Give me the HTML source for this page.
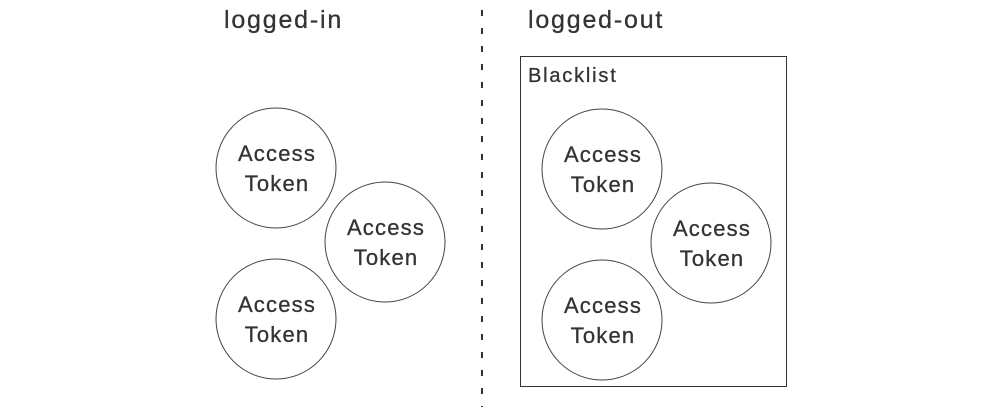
<!DOCTYPE html>
<html><head><style>
html,body{margin:0;padding:0;background:#fff;}
svg{display:block;}
text{font-family:"Liberation Sans",sans-serif;fill:#333;stroke:#333;stroke-width:0.3;}
</style></head><body>
<svg width="1000" height="407" viewBox="0 0 1000 407">
<text x="224" y="28" font-size="25" letter-spacing="1.8">logged-in</text>
<text x="528" y="28" font-size="25" letter-spacing="1.8">logged-out</text>
<line x1="482" y1="10" x2="482" y2="407" stroke="#333" stroke-width="2" stroke-dasharray="6,12"/>
<rect x="520.5" y="56.5" width="266" height="330" fill="none" stroke="#333" stroke-width="1"/>
<text x="528" y="82" font-size="20" letter-spacing="1.8">Blacklist</text>
<g fill="none" stroke="#444" stroke-width="1">
<circle cx="276" cy="168" r="60"/>
<circle cx="385" cy="242" r="60"/>
<circle cx="276" cy="319" r="60"/>
<circle cx="602" cy="169" r="60"/>
<circle cx="711" cy="243" r="60"/>
<circle cx="602" cy="320" r="60"/>
</g>
<g font-size="22" text-anchor="middle" letter-spacing="1.2">
<text x="277" y="161">Access</text><text x="277" y="191">Token</text>
<text x="386" y="235">Access</text><text x="386" y="265">Token</text>
<text x="277" y="312">Access</text><text x="277" y="342">Token</text>
<text x="603" y="162">Access</text><text x="603" y="192">Token</text>
<text x="712" y="236">Access</text><text x="712" y="266">Token</text>
<text x="603" y="313">Access</text><text x="603" y="343">Token</text>
</g>
</svg>
</body></html>
